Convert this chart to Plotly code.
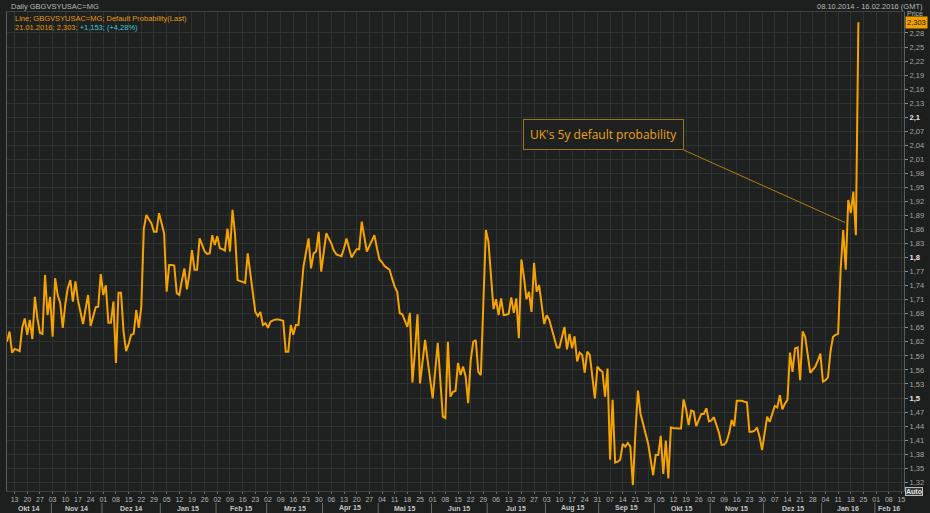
import pandas as pd
import plotly.graph_objects as go

# ---- texts ---------------------------------------------------------------
header_left = "Daily GBGVSYUSAC=MG"
header_right = "08.10.2014 - 16.02.2016 (GMT)"
legend_line = "Line; GBGVSYUSAC=MG; Default Probability(Last)"
last_info = "21.01.2016; 2,303; "
last_change = "+1,153; (+4,28%)"
last_label = "2,303"
callout_text = "UK's 5y default probability"
months_de = ["Jan", "Feb", "Mrz", "Apr", "Mai", "Jun", "Jul", "Aug", "Sep", "Okt", "Nov", "Dez"]

# ---- axis window and trading days -------------------------------------------
axis_start, axis_end = "2014-10-08", "2016-02-16"
first_day, last_day = "2014-10-08", "2016-01-21"

# daily default probability (%), one value per business day, Mon..Fri per row
prob = [
    1.620, 1.642, 1.597,                      # Oct 8-10 2014
    1.605, 1.603, 1.600, 1.650, 1.670,
    1.635, 1.667, 1.626, 1.716, 1.670,
    1.639, 1.637, 1.763, 1.677, 1.716,
    1.631, 1.756, 1.720, 1.703, 1.650,        # Nov 2014
    1.700, 1.735, 1.752, 1.706, 1.749,
    1.709, 1.685, 1.658, 1.690, 1.720,
    1.654, 1.675, 1.694, 1.695, 1.765,
    1.720, 1.741, 1.661, 1.661, 1.706,        # Dec 2014
    1.575, 1.725, 1.725, 1.642, 1.600,
    1.615, 1.635, 1.637, 1.688, 1.650,
    1.695, 1.862, 1.891, 1.882, 1.873,
    1.855, 1.855, 1.895, 1.870, 1.852,
    1.727, 1.784, 1.784, 1.783, 1.724,        # Jan 2015
    1.720, 1.750, 1.777, 1.732, 1.766,
    1.816, 1.774, 1.774, 1.841, 1.827,
    1.813, 1.808, 1.809, 1.848, 1.827,
    1.846, 1.820, 1.818, 1.815, 1.862,        # Feb 2015
    1.813, 1.902, 1.850, 1.752, 1.750,
    1.748, 1.746, 1.809, 1.763, 1.720,
    1.684, 1.675, 1.684, 1.656, 1.660,
    1.650, 1.663, 1.666, 1.668, 1.668,        # Mar 2015
    1.667, 1.665, 1.599, 1.599, 1.656,
    1.635, 1.656, 1.656, None, 1.781,
    None, 1.841, 1.777, 1.809, 1.813,
    1.855, 1.770, None, 1.852, None,
    1.830, 1.815, 1.807, 1.805, 1.803,        # Apr 2015
    1.820, 1.841, 1.820, 1.800, 1.810,
    1.818, 1.818, 1.877, None, 1.813,
    1.825, 1.838, 1.848, 1.820, 1.796,
    1.790, 1.782, 1.778, 1.774, 1.755,        # May 2015
    1.738, 1.727, 1.681, 1.679, 1.665,
    1.652, 1.682, 1.533, 1.599, 1.679,
    1.531, None, 1.624, 1.581, None,
    1.499, None, 1.618, None, 1.460,          # Jun 2015
    1.457, 1.620, 1.503, 1.513, 1.515,
    1.575, 1.549, 1.567, 1.546, 1.489,
    1.581, 1.620, 1.624, 1.556, 1.549,
    None, 1.859, 1.834, 1.759, 1.690,
    1.711, 1.677, 1.713, 1.677, 1.678,        # Jul 2015
    1.680, 1.715, 1.682, 1.713, 1.628,
    1.796, 1.759, 1.711, 1.727, 1.684,
    1.789, 1.727, 1.741, None, 1.658,
    1.677, 1.667, None, None, 1.608,          # Aug 2015
    1.608, None, 1.652, 1.604, 1.637,
    1.606, 1.632, 1.578, 1.597, 1.592,
    1.554, 1.599, 1.592, None, 1.499,
    1.567, 1.560, 1.556, 1.503, 1.563,
    1.368, 1.496, 1.362, 1.364, 1.368,        # Sep 2015
    1.402, 1.396, 1.404, 1.396, 1.314,
    1.425, 1.516, 1.467, 1.446, 1.430,
    1.403, None, 1.335, 1.378, 1.378,
    1.419, 1.338, 1.409, 1.328, 1.437,        # Oct 2015
    1.436, 1.435, 1.435, 1.435, 1.497,
    1.476, 1.442, 1.473, 1.471, 1.440,
    1.455, 1.466, 1.466, 1.478, 1.450,
    1.452, 1.459, 1.440, 1.425, 1.400,        # Nov 2015
    1.400, 1.407, 1.425, 1.453, 1.440,
    1.494, 1.494, 1.494, 1.492, 1.491,
    1.428, 1.428, 1.430, 1.437, 1.417,
    1.389, 1.425, 1.460, 1.449, 1.467,
    1.483, 1.480, 1.506, 1.476, 1.488,        # Dec 2015
    1.496, 1.597, 1.556, 1.606, 1.608,
    1.538, 1.642, 1.631, None, 1.554,
    1.560, 1.567, 1.580, 1.595, 1.535,
    1.538, 1.544, 1.600, 1.631, 1.635,        # Jan 2016
    1.637, 1.774, 1.859, 1.774, 1.923,
    1.895, 1.941, 1.848, 2.303,
]

# callout: lower-right corner of the label box and tip of its leader
callout_corner = ("2015-10-16", 2.03)
callout_tip = ("2016-01-13 18:00", 1.875)

# value-axis ticks
y_ticks = [1.32, 1.35, 1.38, 1.41, 1.44, 1.47, 1.50, 1.53, 1.56, 1.59, 1.62,
           1.65, 1.68, 1.71, 1.74, 1.77, 1.80, 1.83, 1.86, 1.89, 1.92, 1.95,
           1.98, 2.01, 2.04, 2.07, 2.10, 2.13, 2.16, 2.19, 2.22, 2.25, 2.28]
y_range = [1.3013, 2.3248]

# ---- colours / fonts --------------------------------------------------------
BG = "#1d1f1e"
PLOT_BG = "#1f2120"
GRID = "#2e3230"
LINE = "#f5a300"
TXT = "#a9a9a9"
FONT = "Liberation Sans"

# ---- geometry of the plotting window (pixels) -------------------------------
W, H = 930, 513
M_L, M_R, M_T, M_B = 6, 25, 12, 22
PW, PH = W - M_L - M_R, H - M_T - M_B


def px(xp):
    return (xp - M_L) / PW


def py(yp):
    return (H - M_B - yp) / PH


trade_dates = pd.bdate_range(first_day, last_day)
series = pd.Series(prob, index=trade_dates, dtype="float64").dropna()

fig = go.Figure()
fig.add_trace(go.Scatter(
    x=series.index, y=series.values, mode="lines",
    line=dict(color=LINE, width=2), connectgaps=True,
    hoverinfo="x+y", showlegend=False,
))

# weekly Monday ticks
mondays = pd.date_range("2014-10-13", axis_end, freq="W-MON")
tick_text = [d.strftime("%d") for d in mondays]

# month separators and centred month labels
axis_days = pd.bdate_range(axis_start, axis_end)
shapes, annotations = [], []
month_keys = sorted(set((d.year, d.month) for d in axis_days[:-1]))
n_end = len(axis_days) - 1
for k, (yy, mm) in enumerate(month_keys):
    idx = [i for i, d in enumerate(axis_days[:-1]) if d.year == yy and d.month == mm]
    left = idx[0] - 0.5 if k > 0 else 0
    right = idx[-1] + 0.5 if k < len(month_keys) - 1 else n_end
    if k > 0:
        sep = axis_days[idx[0] - 1] + pd.Timedelta(hours=12)
        shapes.append(dict(type="line", xref="x", yref="paper", x0=sep, x1=sep,
                           y0=py(503), y1=py(513), line=dict(color="#6a6d6b", width=1)))
    c = (left + right) / 2
    base = int(c)
    mid = axis_days[base] + pd.Timedelta(days=c - base)
    annotations.append(dict(x=mid, y=py(508.5), xref="x", yref="paper",
                            text=f"<b>{months_de[mm - 1]} {str(yy)[2:]}</b>",
                            showarrow=False, font=dict(size=7, color="#c4c4c4", family=FONT),
                            xanchor="center", yanchor="middle"))

# callout leader line and box
shapes.append(dict(type="line", xref="x", yref="y",
                   x0=callout_corner[0], y0=callout_corner[1],
                   x1=callout_tip[0], y1=callout_tip[1],
                   line=dict(color="#b07d12", width=1)))
annotations.append(dict(x=callout_corner[0], y=callout_corner[1], xref="x", yref="y",
                        text=callout_text, showarrow=False, xanchor="right", yanchor="bottom",
                        font=dict(size=12, color="#eaa21a", family="Open Sans"),
                        bordercolor="#9a7418", borderwidth=1, borderpad=6, bgcolor=PLOT_BG))

# header and info texts
annotations += [
    dict(x=px(8), y=py(6), xref="paper", yref="paper", text=header_left, showarrow=False,
         xanchor="left", yanchor="middle", font=dict(size=7.5, color="#b8b8b8", family=FONT)),
    dict(x=px(926), y=py(6), xref="paper", yref="paper", text=header_right, showarrow=False,
         xanchor="right", yanchor="middle", font=dict(size=7.5, color="#b8b8b8", family=FONT)),
    dict(x=px(12), y=py(19), xref="paper", yref="paper", text=legend_line, showarrow=False,
         xanchor="left", yanchor="middle", font=dict(size=7.5, color="#e09a10", family=FONT)),
    dict(x=px(12), y=py(28), xref="paper", yref="paper",
         text=last_info + f"<span style='color:#3cc8d8'>{last_change}</span>",
         showarrow=False, xanchor="left", yanchor="middle",
         font=dict(size=7.5, color="#e09a10", family=FONT)),
    dict(x=px(916), y=py(14), xref="paper", yref="paper", text="Price", showarrow=False,
         xanchor="center", yanchor="middle", font=dict(size=7, color="#b0b0b0", family=FONT)),
    dict(x=px(906), y=series.values[-1], xref="paper", yref="y", text=last_label,
         showarrow=False, xanchor="left", yanchor="middle", bgcolor="#f0a000",
         borderpad=1, font=dict(size=7.5, color="#1a1a1a", family=FONT)),
    dict(x=px(906), y=py(491), xref="paper", yref="paper", text="<b>Auto</b>",
         showarrow=False, xanchor="left", yanchor="middle", bgcolor="#3c3f3e",
         bordercolor="#bdbdbd", borderwidth=1, borderpad=0,
         font=dict(size=7, color="#e0e0e0", family=FONT)),
]


def fmt(v):
    s = f"{v:.2f}".rstrip("0").replace(".", ",")
    if len(s) <= 3:
        return f"<b><span style='color:#e6e6e6'>{s}</span></b>"
    return s


fig.update_layout(
    width=W, height=H,
    margin=dict(l=M_L, r=M_R, t=M_T, b=M_B),
    paper_bgcolor=BG, plot_bgcolor=PLOT_BG,
    font=dict(family=FONT, size=8, color=TXT),
    shapes=shapes, annotations=annotations,
    xaxis=dict(
        type="date", range=[axis_start, axis_end],
        rangebreaks=[dict(bounds=["sat", "mon"])],
        tickmode="array", tickvals=mondays, ticktext=tick_text,
        ticks="outside", ticklen=2, tickcolor="#6a6d6b",
        tickfont=dict(size=7, color="#b4b4b4", family=FONT),
        showgrid=True, gridcolor=GRID, gridwidth=1,
        showline=True, linecolor="#3e4240", mirror=True, zeroline=False,
    ),
    yaxis=dict(
        side="right", range=y_range,
        tickmode="array", tickvals=y_ticks, ticktext=[fmt(v) for v in y_ticks],
        ticks="outside", ticklen=3, tickcolor="#8a8a8a",
        tickfont=dict(size=7.5, color="#a4a4a4", family=FONT),
        showgrid=True, gridcolor=GRID, gridwidth=1,
        showline=True, linecolor="#5a5e5c", mirror=True, zeroline=False,
    ),
)

fig.write_html("out.html")
